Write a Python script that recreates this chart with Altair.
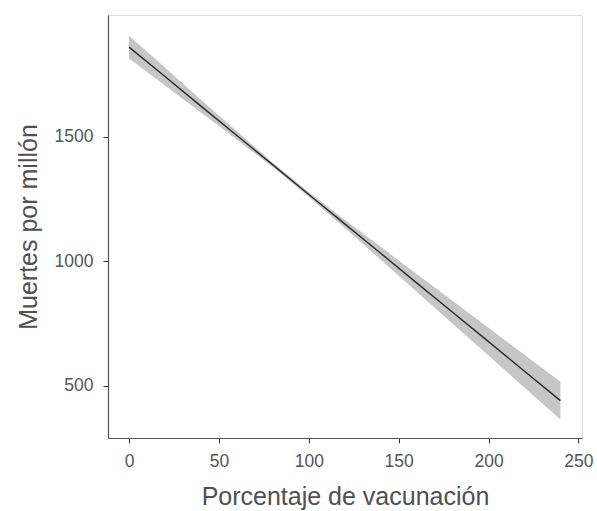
import altair as alt
import pandas as pd

vacunacion = [0, 20, 40, 60, 80, 100, 120, 140, 160, 180, 200, 220, 240]
ajuste = [1861, 1743, 1624, 1506, 1388, 1269, 1151, 1033, 914, 796, 678, 559, 441]
superior = [1907, 1779, 1650, 1523, 1397, 1278, 1168, 1059, 950, 842, 734, 625, 517]
inferior = [1815, 1707, 1598, 1489, 1379, 1260, 1134, 1007, 878, 750, 622, 493, 365]

x_ticks = [0, 50, 100, 150, 200, 250]
y_ticks = [500, 1000, 1500]

df = pd.DataFrame({"x": vacunacion, "fit": ajuste, "hi": superior, "lo": inferior})

font = "Liberation Sans"
xscale = alt.Scale(domain=[-11.7, 252], nice=False, zero=False)
yscale = alt.Scale(domain=[291, 1990], nice=False, zero=False)

xaxis = alt.Axis(values=x_ticks, format="d", title="Porcentaje de vacunación", grid=False,
                 domainColor="#555555", domainWidth=1.2, tickColor="#333333", tickSize=5,
                 labelFont=font, labelFontSize=17.5, labelColor="#555555", labelPadding=9,
                 titleFont=font, titleFontSize=25, titleFontWeight="normal",
                 titleColor="#505050", titlePadding=15)
yaxis = alt.Axis(values=y_ticks, format="d", title="Muertes por millón", grid=False,
                 domainColor="#555555", domainWidth=1.2, tickColor="#333333", tickSize=5,
                 labelFont=font, labelFontSize=17.5, labelColor="#555555", labelPadding=10,
                 titleFont=font, titleFontSize=25, titleFontWeight="normal",
                 titleColor="#505050", titlePadding=13)

band = alt.Chart(df).mark_area(color="#c6c6c6", opacity=1).encode(
    x=alt.X("x:Q", scale=xscale, axis=xaxis),
    y=alt.Y("lo:Q", scale=yscale, axis=yaxis),
    y2="hi:Q",
)
line = alt.Chart(df).mark_line(color="#2b2b2b", strokeWidth=1.4).encode(
    x=alt.X("x:Q", scale=xscale),
    y=alt.Y("fit:Q", scale=yscale),
)

chart = (band + line).properties(
    width=474, height=423,
    autosize=alt.AutoSizeParams(type="none"),
    padding={"left": 108, "top": 15, "right": 15, "bottom": 73},
).configure_view(stroke=None).configure(background="white")

chart.save("out.html", embed_options={"renderer": "svg", "actions": False})
